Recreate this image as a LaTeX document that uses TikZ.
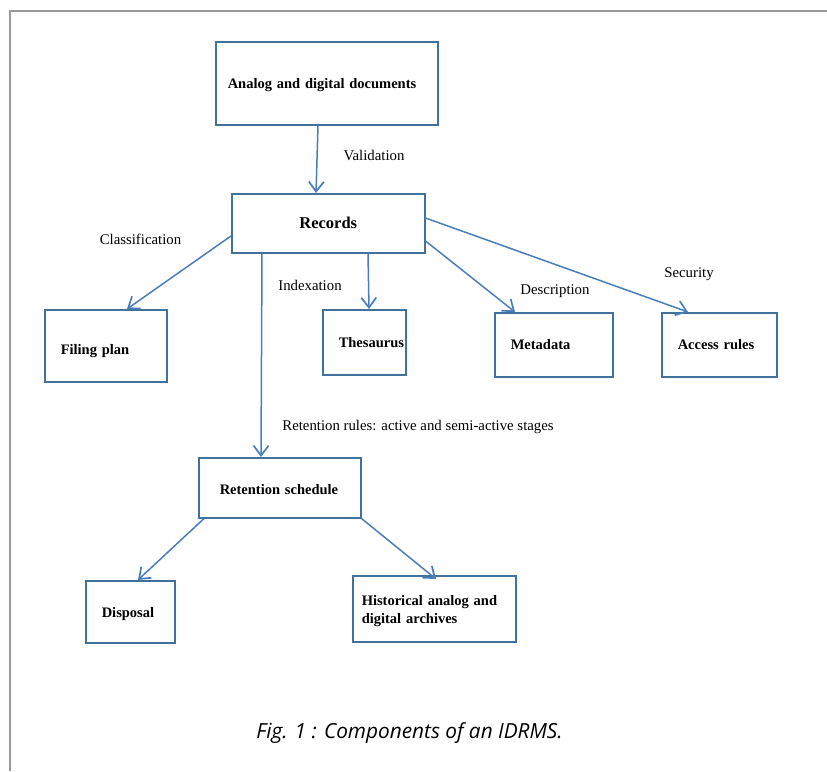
\documentclass[tikz,border=0pt]{standalone}
\usepackage{fontspec}
\setmainfont{Liberation Serif}
\newfontfamily\capfont{Open Sans}
\usetikzlibrary{arrows.meta,calc}
\definecolor{boxc}{HTML}{41719C}
\definecolor{arrc}{HTML}{4A7EBB}
\definecolor{framec}{HTML}{999999}
\newcommand{\lowr}[2]{\raisebox{-#1}[\height][\depth]{#2}}
\tikzset{
  box/.style={draw=boxc, line width=1.5pt, anchor=north west, align=left,
    font=\fontsize{14.5}{17.5}\selectfont\bfseries, inner ysep=0pt},
  conn/.style={draw=arrc, line width=1.5pt, -{Straight Barb[length=10pt,width=15pt,line width=1.7pt]}},
  lbl/.style={font=\fontsize{14.8}{17}\selectfont, inner sep=0pt}
}
\begin{document}
\begin{tikzpicture}[x=1pt,y=-1pt]
\useasboundingbox (0,0) rectangle (827,771);
% frame
\draw[framec, line width=2pt] (9.5,771) -- (9.5,10.5) -- (827,10.5);
% boxes
\node[box, inner xsep=12pt, text width=198pt, minimum height=83pt] (an) at (215,41) {\lowr{2pt}{Analog and digital documents}};
\node[box, align=center, inner xsep=0pt, text width=193pt, minimum height=59pt, font=\fontsize{16.5}{19}\selectfont\bfseries] (rec) at (231,193) {Records};
\node[box, inner xsep=16pt, text width=90pt, minimum height=72pt] (fp) at (44,309) {\lowr{5pt}{Filing plan}};
\node[box, inner xsep=16pt, text width=51pt, minimum height=65pt] (th) at (322,309) {Thesaurus};
\node[box, inner xsep=16pt, text width=86pt, minimum height=64pt] (md) at (494,312) {Metadata};
\node[box, inner xsep=16pt, text width=83pt, minimum height=64pt] (ac) at (661,312) {Access rules};
\node[box, inner xsep=21pt, text width=120pt, minimum height=60pt] (ret) at (198,457) {\lowr{2pt}{Retention schedule}};
\node[box, inner xsep=16pt, text width=57pt, minimum height=62pt] (dis) at (85,580) {\lowr{2pt}{Disposal}};
\node[box, inner xsep=9pt, text width=145pt, minimum height=66pt] (hist) at (352,575) {\lowr{2pt}{\begin{tabular}{@{}l@{}}Historical analog and\\[0pt]digital archives\end{tabular}}};
% connectors
\draw[conn] ([xshift=103pt]an.south west) -- ([xshift=85pt]rec.north west);
\draw[conn] ([yshift=-43pt]rec.north west) -- ([xshift=83pt]fp.north west);
\draw[conn] ([xshift=31pt]rec.south west) -- ([xshift=63pt]ret.north west);
\draw[conn] ([xshift=137pt]rec.south west) -- ([xshift=47pt]th.north west);
\draw[conn] ([yshift=-48pt]rec.north east) -- ([xshift=21pt]md.north west);
\draw[conn] ([yshift=-25pt]rec.north east) -- ([xshift=27pt]ac.north west);
\draw[conn] ([xshift=6pt]ret.south west) -- ([xshift=53pt]dis.north west);
\draw[conn] (ret.south east) -- ([xshift=84pt,yshift=-4pt]hist.north west);
% labels
\node[lbl] (lval) at (374,155) {Validation};
\node[lbl] (lcls) at (140.5,239) {Classification};
\node[lbl] (lidx) at (310,285) {Indexation};
\node[lbl] (ldes) at (555,291) {Description};
\node[lbl] (lsec) at (689,274) {Security};
\node[lbl] (lret) at (418,427) {Retention rules: active and semi-active stages};
% caption
\node[inner sep=0pt, font=\capfont\itshape\fontsize{20.8}{24}\selectfont] (cap) at (409.5,733) {Fig. 1 : Components of an IDRMS.};
\end{tikzpicture}
\end{document}
